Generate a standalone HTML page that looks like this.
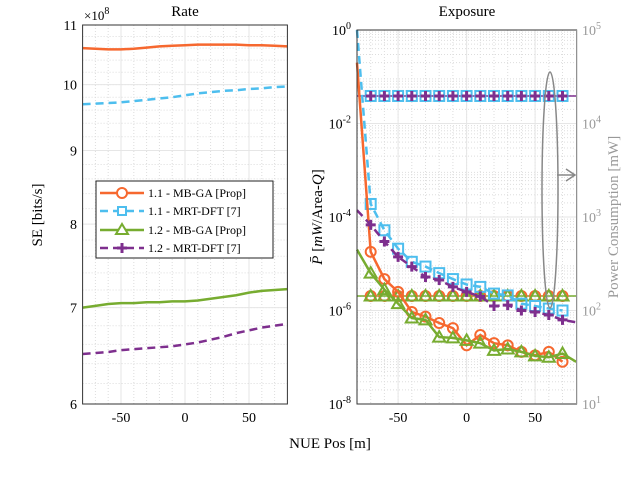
<!DOCTYPE html>
<html><head><meta charset="utf-8">
<style>
body{margin:0;background:#fff;}
svg{display:block;font-family:"Liberation Serif",serif;}
</style></head>
<body>
<svg id="chart" width="634" height="490" viewBox="0 0 634 490" xmlns="http://www.w3.org/2000/svg">
<g id="L"></g><g id="R"></g>
</svg>
<script>
// ---- data ----
const xPos = [-80,-70,-60,-50,-40,-30,-20,-10,0,10,20,30,40,50,60,70,80];
// Left panel: SE (x1e8 bits/s)
const seMbga11 = [10.6,10.59,10.58,10.58,10.59,10.61,10.63,10.64,10.65,10.66,10.66,10.66,10.66,10.65,10.65,10.64,10.63];
const seMrt11  = [9.69,9.70,9.71,9.72,9.74,9.76,9.78,9.80,9.83,9.86,9.88,9.90,9.91,9.93,9.94,9.96,9.97];
const seMbga12 = [7.0,7.02,7.04,7.05,7.05,7.06,7.06,7.07,7.07,7.08,7.10,7.12,7.14,7.17,7.19,7.20,7.21];
const seMrt12  = [6.50,6.51,6.52,6.54,6.55,6.56,6.57,6.58,6.60,6.62,6.65,6.68,6.72,6.75,6.78,6.80,6.82];
// Right panel: exposure
const exMbga11 = [0.2,1.8e-5,4.7e-6,2.5e-6,9.3e-7,7.4e-7,5.4e-7,4.2e-7,1.8e-7,3e-7,2e-7,1.8e-7,1.3e-7,1.1e-7,1.3e-7,8e-8];
const exMrt11  = [1,1.9e-4,5.2e-5,2.1e-5,1.1e-5,8.7e-6,6.3e-6,4.7e-6,3.6e-6,3.2e-6,2.3e-6,2.1e-6,1.4e-6,1.25e-6,1.1e-6,1e-6];
const exMbga12 = [2e-5,6.3e-6,2.8e-6,1.4e-6,6.9e-7,6.3e-7,2.7e-7,2.6e-7,2.3e-7,2e-7,1.4e-7,1.5e-7,1.3e-7,1.07e-7,1e-7,1.2e-7,8e-8];
const exMrt12  = [1.4e-4,6.8e-5,3e-5,1.4e-5,8.7e-6,5.2e-6,4.5e-6,3.2e-6,2.5e-6,2e-6,1.25e-6,1.3e-6,1e-6,9.3e-7,8e-7,6.3e-7,5.6e-7];
// Power consumption (mW), right axis
const powMrt = 19700;
const powMbga = 143;
const xTicks = [-50,0,50];
const seTicks = [6,7,8,9,10,11];
const exTicks = [0,-2,-4,-6,-8];
const powTicks = [1,2,3,4,5];

const C={o:'#f6682f',b:'#4dbeee',g:'#77ac30',p:'#7e2f8e'};
const NS='http://www.w3.org/2000/svg';
function el(p,t,a){const e=document.createElementNS(NS,t);for(const k in a)e.setAttribute(k,a[k]);p.appendChild(e);return e;}
const L=document.getElementById('L'),R=document.getElementById('R');

// axes functions
const lx=v=>82.6+(v+80)*1.28;
const ly=v=>25+(Math.log10(11)-Math.log10(v))/(Math.log10(11)-Math.log10(6))*379;
const rx=v=>357+(v+80)*1.37;
const ry=v=>30+(-Math.log10(v))*46.75;
const py=v=>30+(5-Math.log10(v))*93.5;

// ---- left panel grid ----
for(let v=-70;v<=70;v+=10){const g=el(L,'line',{x1:lx(v),x2:lx(v),y1:25,y2:404,stroke:'#ddd','stroke-dasharray':'1,2'});}
for(let v=6.2;v<11;v+=0.2){const g=el(L,'line',{x1:82.6,x2:287.4,y1:ly(v),y2:ly(v),stroke:'#ddd','stroke-dasharray':'1,2'});}
xTicks.forEach(v=>{const g=el(L,'line',{x1:lx(v),x2:lx(v),y1:25,y2:404,stroke:'#e6e6e6'});
 const t=el(L,'text',{x:lx(v),y:422,'text-anchor':'middle','font-size':14});t.textContent=v;
 });
seTicks.forEach(v=>{el(L,'line',{x1:82.6,x2:287.4,y1:ly(v),y2:ly(v),stroke:'#e6e6e6'});
 const t=el(L,'text',{x:77,y:ly(v)+5,'text-anchor':'end','font-size':14});t.textContent=v;
 });
function lline(arr,col,dash){const d=arr.map((v,i)=>(i?'L':'M')+lx(xPos[i])+','+ly(v)).join('');
 const p=el(L,'path',{d:d,fill:'none',stroke:col,'stroke-width':2.5,'stroke-dasharray':dash||'none'});
 }
lline(seMbga11,C.o);lline(seMrt11,C.b,'8,5');lline(seMbga12,C.g);lline(seMrt12,C.p,'8,5');
el(L,'rect',{x:82.6,y:25,width:204.8,height:379,fill:'none',stroke:'#333'});

// ---- right panel grid ----
for(let v=-70;v<=70;v+=10)el(R,'line',{x1:rx(v),x2:rx(v),y1:30,y2:404,stroke:'#ddd','stroke-dasharray':'1,2'});
for(let d=0;d<8;d++)for(let m=2;m<10;m++){const y=ry(m*Math.pow(10,-d-1));el(R,'line',{x1:357,x2:576.6,y1:y,y2:y,stroke:'#ddd','stroke-dasharray':'1,2'});}
xTicks.forEach(v=>{el(R,'line',{x1:rx(v),x2:rx(v),y1:30,y2:404,stroke:'#e6e6e6'});
 const t=el(R,'text',{x:rx(v),y:422,'text-anchor':'middle','font-size':14});t.textContent=v;
 });
exTicks.forEach(e=>{const y=ry(Math.pow(10,e));el(R,'line',{x1:357,x2:576.6,y1:y,y2:y,stroke:'#e6e6e6'});
 const t=el(R,'text',{x:351,y:y+5,'text-anchor':'end','font-size':14});t.innerHTML='10<tspan dy="-6" font-size="10">'+e+'</tspan>';
 });
powTicks.forEach(e=>{const y=py(Math.pow(10,e));
 const t=el(R,'text',{x:582,y:y+5,'font-size':14,fill:'#999'});t.innerHTML='10<tspan dy="-6" font-size="10">'+e+'</tspan>';
 });

function marker(g,type,x,y,col){
 if(type==='o')el(g,'circle',{cx:x,cy:y,r:5,fill:'none',stroke:col,'stroke-width':2});
 else if(type==='s')el(g,'rect',{x:x-5,y:y-5,width:10,height:10,fill:'none',stroke:col,'stroke-width':2});
 else if(type==='^')el(g,'path',{d:`M${x},${y-6}L${x+6},${y+4.5}L${x-6},${y+4.5}Z`,fill:'none',stroke:col,'stroke-width':2});
 else el(g,'path',{d:`M${x-5},${y}H${x+5}M${x},${y-5}V${y+5}`,stroke:col,'stroke-width':3});}
function rline(arr,col,dash,mk){const g=el(R,'g',{});
 
 const d=arr.map((v,i)=>(i?'L':'M')+rx(xPos[i])+','+ry(v)).join('');
 el(g,'path',{d:d,fill:'none',stroke:col,'stroke-width':2.5,'stroke-dasharray':dash||'none'});
 arr.forEach((v,i)=>{if(i>0&&xPos[i]<80)marker(g,mk,rx(xPos[i]),ry(v),col);});}
function pline(val,col,mk,mk2,col2){const g=el(R,'g',{});
 
 const y=py(val);el(g,'line',{x1:357,x2:576.6,y1:y,y2:y,stroke:col2,'stroke-width':1.5});
 xPos.forEach(x=>{if(x>-80&&x<80){marker(g,mk,rx(x),y,col);marker(g,mk2,rx(x),y,col2);}});}
pline(powMrt,C.b,'s','+',C.p);
pline(powMbga,C.o,'o','^',C.g);
rline(exMrt11,C.b,'8,5','s');rline(exMbga11,C.o,null,'o');rline(exMrt12,C.p,'8,5','+');rline(exMbga12,C.g,null,'^');
el(R,'rect',{x:357,y:30,width:219.6,height:374,fill:'none',stroke:'#333'});
el(R,'line',{x1:576.6,x2:576.6,y1:30,y2:404,stroke:'#999'});
const ell=el(R,'ellipse',{cx:550,cy:190,rx:8,ry:118,fill:'none',stroke:'#888','stroke-width':1.5});

const arr=el(R,'path',{d:'M557,175H575M566,169L575,175L566,181',fill:'none',stroke:'#888','stroke-width':1.5});

</script>
<svg width="634" height="490" style="position:absolute;left:0;top:0" xmlns="http://www.w3.org/2000/svg">
<text x="185" y="16" text-anchor="middle" font-family="Liberation Serif,serif" font-size="15">Rate</text>
<text x="467" y="16" text-anchor="middle" font-family="Liberation Serif,serif" font-size="15">Exposure</text>
<text x="84" y="20" font-family="Liberation Serif,serif" font-size="13">×10<tspan dy="-6" font-size="10">8</tspan></text>
<text transform="translate(42,215) rotate(-90)" text-anchor="middle" font-family="Liberation Serif,serif" font-size="15">SE [bits/s]</text>
<text transform="translate(322,217) rotate(-90)" text-anchor="middle" font-family="Liberation Serif,serif" font-size="15"><tspan font-style="italic">P̄</tspan> [<tspan font-style="italic">mW</tspan>/Area-<tspan font-style="italic">Q</tspan>]</text>
<text transform="translate(618,217) rotate(-90)" text-anchor="middle" font-family="Liberation Serif,serif" font-size="15" fill="#999">Power Consumption [mW]</text>
<text x="330" y="448" text-anchor="middle" font-family="Liberation Serif,serif" font-size="15">NUE Pos [m]</text>
<g font-family="Liberation Serif,serif" font-size="12">
<rect x="96" y="181" width="177" height="77" fill="#fff" stroke="#222"/>
<g><line x1="100" x2="144" y1="193" y2="193" stroke="#f6682f" stroke-width="2.5"/><circle cx="122" cy="193" r="5" fill="#fff" stroke="#f6682f" stroke-width="2"/><text x="148" y="197">1.1 - MB-GA [Prop]</text></g>
<g><line x1="100" x2="144" y1="211" y2="211" stroke="#4dbeee" stroke-width="2.5" stroke-dasharray="8,5"/><rect x="118" y="207" width="8" height="8" fill="#fff" stroke="#4dbeee" stroke-width="2"/><text x="148" y="215">1.1 - MRT-DFT [7]</text></g>
<g><line x1="100" x2="144" y1="230" y2="230" stroke="#77ac30" stroke-width="2.5"/><path d="M122,224L128,234L116,234Z" fill="#fff" stroke="#77ac30" stroke-width="2"/><text x="148" y="234">1.2 - MB-GA [Prop]</text></g>
<g><line x1="100" x2="144" y1="248" y2="248" stroke="#7e2f8e" stroke-width="2.5" stroke-dasharray="8,5"/><path d="M117,248H127M122,243V253" stroke="#7e2f8e" stroke-width="3"/><text x="148" y="252">1.2 - MRT-DFT [7]</text></g>
</g>
</svg>
</body></html>
